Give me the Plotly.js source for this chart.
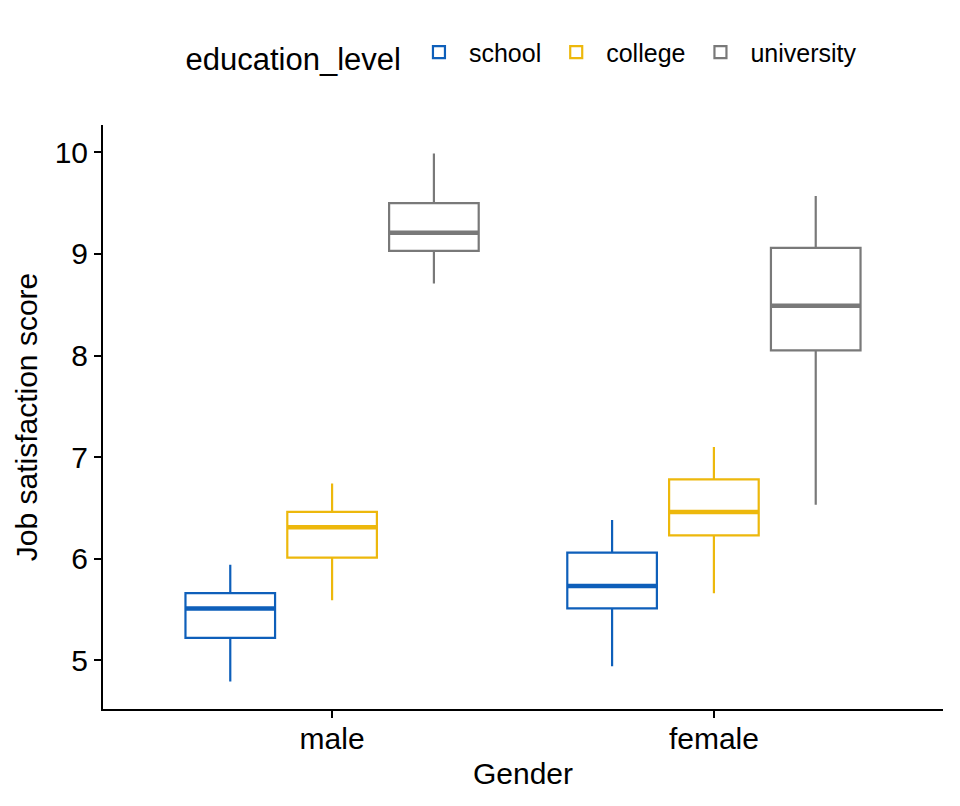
<!DOCTYPE html>
<html>
<head>
<meta charset="utf-8">
<script src="https://cdn.plot.ly/plotly-3.0.1.min.js"></script>
<style>html,body{margin:0;padding:0;background:#fff}#chart{width:960px;height:806px}</style>
</head>
<body>
<div id="chart"></div>
<script>
const categories = ['male', 'female'];
const levels = ['school', 'college', 'university'];
const colors = ['#0E5FBA', '#EDB80C', '#797979'];

// per education level, values for [male, female]
const lowerfence = [[4.79, 4.94], [5.59, 5.66], [8.71, 6.53]];
const q1         = [[5.22, 5.51], [6.01, 6.23], [9.03, 8.05]];
const median     = [[5.51, 5.73], [6.31, 6.46], [9.21, 8.49]];
const q3         = [[5.66, 6.06], [6.46, 6.78], [9.50, 9.06]];
const upperfence = [[5.94, 6.38], [6.74, 7.10], [9.99, 9.57]];

const yTicks = [5, 6, 7, 8, 9, 10];

const traces = [];
levels.forEach((lvl, i) => {
  traces.push({
    type: 'box', name: lvl, x: categories,
    q1: q1[i], median: median[i], q3: q3[i],
    lowerfence: lowerfence[i], upperfence: upperfence[i],
    offsetgroup: lvl, legendgroup: lvl,
    fillcolor: 'rgba(255,255,255,0)',
    line: {color: colors[i], width: 2.2},
    whiskerwidth: 0, boxpoints: false, hoverinfo: 'skip'
  });
});
// thicker median lines (ggplot style)
levels.forEach((lvl, i) => {
  traces.push({
    type: 'box', name: lvl, x: categories,
    q1: median[i], median: median[i], q3: median[i],
    lowerfence: median[i], upperfence: median[i],
    offsetgroup: lvl, legendgroup: lvl, showlegend: false,
    fillcolor: 'rgba(255,255,255,0)',
    line: {color: colors[i], width: 4.5},
    whiskerwidth: 0, boxpoints: false, hoverinfo: 'skip'
  });
});

const layout = {
  width: 960, height: 806,
  margin: {l: 103, r: 17, t: 125, b: 97},
  paper_bgcolor: '#fff', plot_bgcolor: '#fff',
  font: {family: 'Liberation Sans, Arial, sans-serif', color: '#000'},
  boxmode: 'group', boxgap: 0.2, boxgroupgap: 0.12,
  xaxis: {
    type: 'category', range: [-0.6, 1.6],
    showline: true, linecolor: '#000', linewidth: 2,
    ticks: 'outside', ticklen: 7, tickwidth: 2, tickcolor: '#000',
    tickfont: {size: 30, color: '#000'}, ticklabelstandoff: -5,
    showgrid: false, zeroline: false,
    title: {text: 'Gender', font: {size: 30, color: '#000'}, standoff: 9}
  },
  yaxis: {
    range: [4.52, 10.27], tickvals: yTicks, ticktext: yTicks.map(String),
    showline: true, linecolor: '#000', linewidth: 2,
    ticks: 'outside', ticklen: 7, tickwidth: 2, tickcolor: '#000',
    tickfont: {size: 30, color: '#000'},
    showgrid: false, zeroline: false,
    title: {text: 'Job satisfaction score', font: {size: 30, color: '#000'}, standoff: 8}
  },
  legend: {
    orientation: 'h', x: 0.5, xanchor: 'center', y: 1.12, yanchor: 'middle',
    title: {text: 'education_level', font: {size: 31, color: '#000'}, side: 'left'},
    font: {size: 25, color: '#000'}, itemwidth: 50, tracegroupgap: 0
  },
  showlegend: true
};

Plotly.newPlot('chart', traces, layout, {displayModeBar: false, staticPlot: true});
</script>
</body>
</html>
